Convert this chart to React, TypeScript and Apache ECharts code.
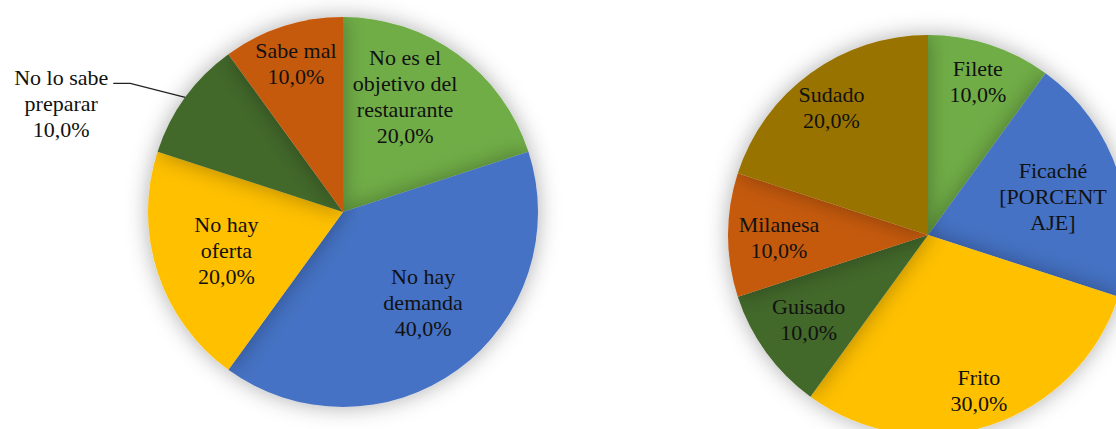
import React, { useEffect, useRef } from "react";
import * as echarts from "echarts";

// Left pie: reasons
const leftNames = [
  "No es el objetivo del restaurante",
  "No hay demanda",
  "No hay oferta",
  "No lo sabe preparar",
  "Sabe mal",
];
const leftLabelText = [
  "No es el\nobjetivo del\nrestaurante",
  "No hay\ndemanda",
  "No hay\noferta",
  "No lo sabe\npreparar",
  "Sabe mal",
];
const leftValues = [20, 40, 20, 10, 10];
const leftColors = ["#70AD47", "#4472C4", "#FFC000", "#43682B", "#C55A11"];

// Right pie: preparations
const rightNames = ["Filete", "Ficaché", "Frito", "Guisado", "Milanesa", "Sudado"];
const rightLabelText = ["Filete", "Ficaché", "Frito", "Guisado", "Milanesa", "Sudado"];
const rightValues = [10, 20, 30, 10, 10, 20];
const rightColors = ["#70AD47", "#4472C4", "#FFC000", "#43682B", "#C55A11", "#997300"];
// Ficaché label shows the unresolved placeholder in the original
const rightPercentText = [null, "[PORCENT\nAJE]", null, null, null, null];

const fmtPct = (v: number) => v.toFixed(1).replace(".", ",") + "%";

export default function App() {
  const ref = useRef<HTMLDivElement>(null);
  useEffect(() => {
    if (!ref.current) return;
    const chart = echarts.init(ref.current, undefined, { renderer: "svg" });

    const leftOffsets: number[][] = [
      [3, -34],
      [21, 9],
      [-21, 7],
      [0, 0],
      [-16, -53],
    ];
    const rightOffsets: number[][] = [
      [18, -56],
      [27, -7],
      [19, 58],
      [-36, 24],
      [-46, 2],
      [-36, -44],
    ];

    const font = "Liberation Serif";
    const itemStyleBase = {
      shadowBlur: 22,
      shadowColor: "rgba(0,0,0,0.32)",
      borderWidth: 0,
    };
    const labelBase = {
      show: true,
      position: "inside",
      color: "#111111",
      fontSize: 22,
      lineHeight: 26,
      fontFamily: font,
      align: "center",
    };

    const leftData = leftNames.map((n, i) => {
      const d: any = {
        name: n,
        value: leftValues[i],
        itemStyle: { color: leftColors[i] },
      };
      if (i === 3) {
        d.label = { position: "outside", show: true };
        d.labelLine = { show: true, length: 22, length2: 50, lineStyle: { color: "#222", width: 1.3 } };
      }
      return d;
    });
    const rightData = rightNames.map((n, i) => ({
      name: n,
      value: rightValues[i],
      itemStyle: { color: rightColors[i] },
    }));

    chart.setOption({
      animation: false,
      backgroundColor: "#ffffff",
      series: [
        {
          type: "pie",
          center: [343, 212],
          radius: 195,
          startAngle: 90,
          clockwise: true,
          data: leftData,
          itemStyle: itemStyleBase,
          label: {
            ...labelBase,
            formatter: (p: any) => leftLabelText[p.dataIndex] + "\n" + fmtPct(p.value),
          },
          labelLine: { show: false },
          emphasis: { disabled: true },
          labelLayout: (params: any) => {
            const i = params.dataIndex;
            if (i === 3 && params.labelLinePoints) {
              const p0 = params.labelLinePoints[0];
              const bend = [p0[0] - 55, p0[1] - 14];
              const end = [p0[0] - 72, p0[1] - 14];
              return {
                x: end[0] - 52,
                y: end[1] + 20,
                align: "center",
                verticalAlign: "middle",
                labelLinePoints: [p0, bend, end],
              };
            }
            const o = leftOffsets[i];
            return { dx: o[0], dy: o[1] };
          },
        },
        {
          type: "pie",
          center: [928, 235],
          radius: 200,
          startAngle: 90,
          clockwise: true,
          data: rightData,
          itemStyle: itemStyleBase,
          label: {
            ...labelBase,
            formatter: (p: any) =>
              rightLabelText[p.dataIndex] +
              "\n" +
              (rightPercentText[p.dataIndex] ?? fmtPct(p.value)),
          },
          labelLine: { show: false },
          emphasis: { disabled: true },
          labelLayout: (params: any) => {
            const o = rightOffsets[params.dataIndex];
            return { dx: o[0], dy: o[1] };
          },
        },
      ],
    });
    return () => chart.dispose();
  }, []);

  return (
    <div
      ref={ref}
      style={{ position: "absolute", left: 0, top: 0, width: 1116, height: 429 }}
    />
  );
}
